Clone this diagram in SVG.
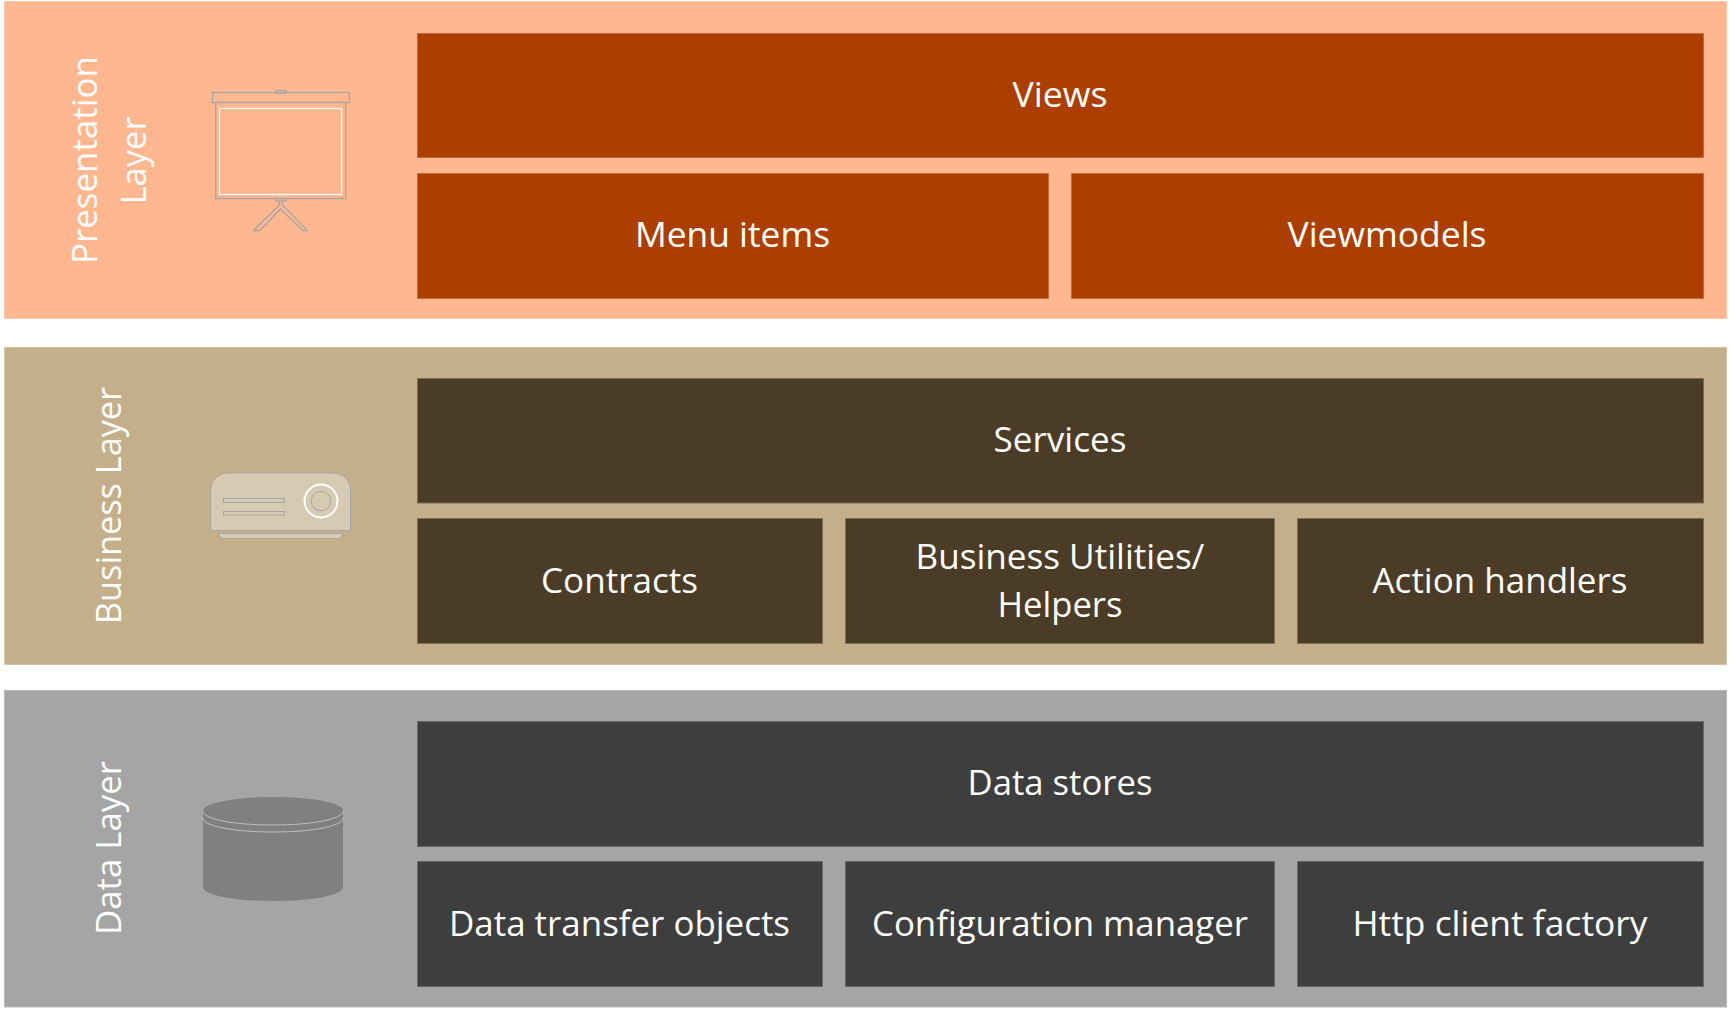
<svg xmlns="http://www.w3.org/2000/svg" width="1730" height="1014" viewBox="0 0 1730 1014">
<style>
text{font-family:"Open Sans","Noto Sans","Liberation Sans",sans-serif;fill:#fff;text-anchor:middle;font-size:35px}
.o{fill:#FFB78F;stroke:#FFC9AC;stroke-width:1}.od{fill:#AC3F00;stroke:#C2693A;stroke-width:1}
.b{fill:#C5AF8A;stroke:#D2C2A6;stroke-width:1}.bd{fill:#4B3C27;stroke:#7B6C54;stroke-width:1}
.g{fill:#A5A5A5;stroke:#B8B8B8;stroke-width:1}.gd{fill:#3E3E3E;stroke:#686868;stroke-width:1}
.ic{fill:none;stroke:#A5A5A5;stroke-width:1.3}
</style>
<rect width="1730" height="1014" fill="#fff"/>
<g id="presentation-layer">
<rect class="o" x="4.500" y="1.500" width="1722" height="317"/>
<text transform="translate(97 160) rotate(-90)" x="0" y="0" textLength="208" lengthAdjust="spacingAndGlyphs">Presentation</text>
<text transform="translate(145.500 160.500) rotate(-90)" x="0" y="0" textLength="88" lengthAdjust="spacingAndGlyphs">Layer</text>
</g>
<g id="screen-icon">
<rect class="ic" x="276" y="90.500" width="10" height="2.500"/>
<rect class="ic" x="212.500" y="92.500" width="137" height="10"/>
<rect class="ic" x="215.700" y="102.500" width="130" height="96"/>
<rect x="219.500" y="108.500" width="122" height="86" fill="none" stroke="#fff" stroke-width="1.200"/>
<rect class="ic" x="276" y="198.500" width="10" height="2.500"/>
<path class="ic" stroke-width="1" d="M279.500 201V205L253.500 230.500H260L280.500 209L303 230.500H307.500L282.500 205V201"/>
</g>
<g id="views"><rect class="od" x="417.500" y="33.500" width="1286" height="124"/><text x="1060" y="107" textLength="95" lengthAdjust="spacingAndGlyphs">Views</text></g>
<g id="menu-items"><rect class="od" x="417.500" y="173.500" width="631" height="125"/><text x="732.500" y="247" textLength="195" lengthAdjust="spacingAndGlyphs">Menu items</text></g>
<g id="viewmodels"><rect class="od" x="1071.500" y="173.500" width="632" height="125"/><text x="1387" y="247" textLength="199" lengthAdjust="spacingAndGlyphs">Viewmodels</text></g>

<g id="business-layer">
<rect class="b" x="4.500" y="347.500" width="1722" height="317"/>
<text transform="translate(121 505.500) rotate(-90)" x="0" y="0" textLength="237" lengthAdjust="spacingAndGlyphs">Business Layer</text>
</g>
<g id="projector-icon">
<path d="M210.700 530.500V490a17 17 0 0 1 17-17H333.500a17 17 0 0 1 17 17V530.500Z" fill="#D6CAB3" stroke="#A5A5A5" stroke-width="1"/>
<path d="M218.500 533.500H343L340.500 538.500H221Z" fill="#D6CAB3" stroke="#A5A5A5" stroke-width="1"/>
<rect x="223.500" y="498.500" width="61" height="4" fill="none" stroke="#A5A5A5" stroke-width="1"/>
<rect x="223.500" y="511.500" width="61" height="3.500" fill="none" stroke="#A5A5A5" stroke-width="1"/>
<circle cx="321" cy="501" r="16.500" fill="none" stroke="#fff" stroke-width="2"/>
<circle cx="321" cy="501" r="9.800" fill="none" stroke="#A5A5A5" stroke-width="1"/>
</g>
<g id="services"><rect class="bd" x="417.500" y="378.500" width="1286" height="124.500"/><text x="1060" y="452" textLength="133" lengthAdjust="spacingAndGlyphs">Services</text></g>
<g id="contracts"><rect class="bd" x="417.500" y="518.500" width="405" height="125"/><text x="619.500" y="593" textLength="157" lengthAdjust="spacingAndGlyphs">Contracts</text></g>
<g id="business-utilities"><rect class="bd" x="845.500" y="518.500" width="429" height="125"/><text x="1060" y="569" textLength="289" lengthAdjust="spacingAndGlyphs">Business Utilities/</text><text x="1060" y="617" textLength="125" lengthAdjust="spacingAndGlyphs">Helpers</text></g>
<g id="action-handlers"><rect class="bd" x="1297.500" y="518.500" width="406" height="125"/><text x="1500" y="593" textLength="255" lengthAdjust="spacingAndGlyphs">Action handlers</text></g>

<g id="data-layer">
<rect class="g" x="4.500" y="690.500" width="1722" height="316.500"/>
<text transform="translate(121 848) rotate(-90)" x="0" y="0" textLength="174" lengthAdjust="spacingAndGlyphs">Data Layer</text>
</g>
<g id="database-icon">
<path d="M203 811C203 803 233 797 273 797S343 803 343 811V887C343 895 313 901 273 901S203 895 203 887Z" fill="#808080"/>
<path d="M203 811C203 819 233 825 273 825S343 819 343 811M203 818C203 826 233 832 273 832S343 826 343 818" fill="none" stroke="#BFBFBF" stroke-width="1"/>
</g>
<g id="data-stores"><rect class="gd" x="417.500" y="721.500" width="1286" height="125"/><text x="1060" y="795" textLength="185" lengthAdjust="spacingAndGlyphs">Data stores</text></g>
<g id="dto"><rect class="gd" x="417.500" y="861.500" width="405" height="125"/><text x="619.500" y="936" textLength="341" lengthAdjust="spacingAndGlyphs">Data transfer objects</text></g>
<g id="config-manager"><rect class="gd" x="845.500" y="861.500" width="429" height="125"/><text x="1060" y="936" textLength="376" lengthAdjust="spacingAndGlyphs">Configuration manager</text></g>
<g id="http-client"><rect class="gd" x="1297.500" y="861.500" width="406" height="125"/><text x="1500" y="936" textLength="295" lengthAdjust="spacingAndGlyphs">Http client factory</text></g>
<g id="connectors"></g>
</svg>
